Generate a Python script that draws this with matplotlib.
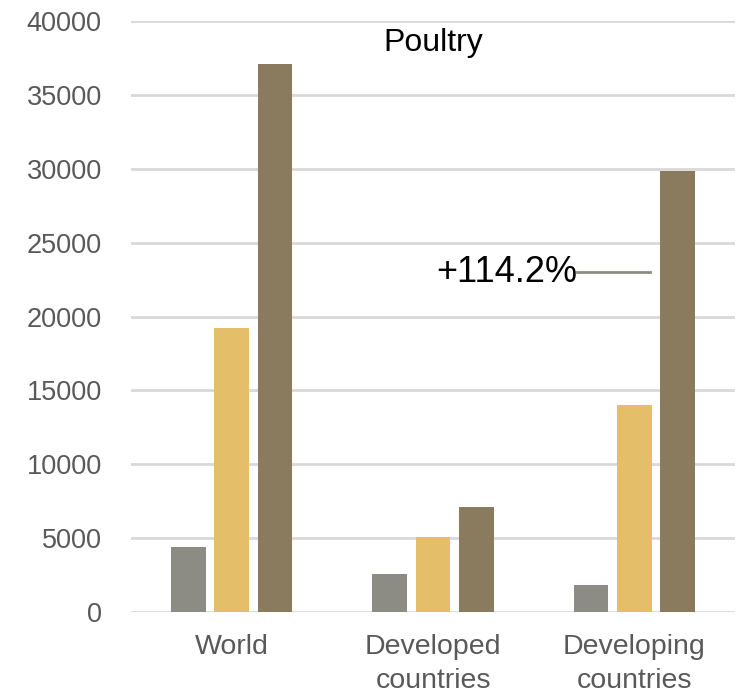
import matplotlib
matplotlib.use("Agg")
import matplotlib.pyplot as plt
import numpy as np

categories = ["World", "Developed\ncountries", "Developing\ncountries"]
series_a = [4400, 2600, 1850]     # grey
series_b = [19200, 5100, 14000]   # yellow
series_c = [37100, 7100, 29850]   # brown
yticks = [0, 5000, 10000, 15000, 20000, 25000, 30000, 35000, 40000]
title = "Poultry"
annotation = "+114.2%"

colors = ["#8C8C84", "#E4BE68", "#8A7A5E"]

fig = plt.figure(figsize=(7.44, 6.96), dpi=100)
ax = fig.add_axes([0.176, 0.1207, 0.812, 0.8491])

x = np.arange(len(categories))
w = 0.172
step = 0.215
for i, (vals, c) in enumerate(zip([series_a, series_b, series_c], colors)):
    ax.bar(x + (i - 1) * step, vals, width=w, color=c, zorder=3)

ax.set_xlim(-0.5, 2.5)
ax.set_ylim(0, 40000)
ax.set_yticks(yticks)
ax.set_yticklabels([str(t) for t in yticks], fontsize=19.5, color="#595959",
                   family=["Liberation Sans", "DejaVu Sans"])
ax.grid(axis="y", color="#D9D9D9", linewidth=2, zorder=0)
ax.set_axisbelow(True)
for s in ax.spines.values():
    s.set_visible(False)
ax.tick_params(axis="y", length=0, pad=21)
ax.tick_params(axis="x", length=0, pad=16)
ax.set_xticks(x)
ax.set_xticklabels(categories, fontsize=20.5, color="#595959", linespacing=1.4,
                   family=["Liberation Sans Narrow", "Liberation Sans", "DejaVu Sans"])

ax.text(0.5, 0.962, title, transform=ax.transAxes, ha="center", va="center",
        fontsize=23, color="black", family=["Liberation Sans", "DejaVu Sans"])

ann_y = 23000
ax.plot([1.714, 2.077], [ann_y, ann_y], color="#8C8C84", linewidth=2, zorder=4)
ax.text(1.714, ann_y, annotation, ha="right", va="center", fontsize=26,
        color="black", family=["Liberation Sans", "DejaVu Sans"], zorder=5)

fig.savefig("out.png", dpi=100)
